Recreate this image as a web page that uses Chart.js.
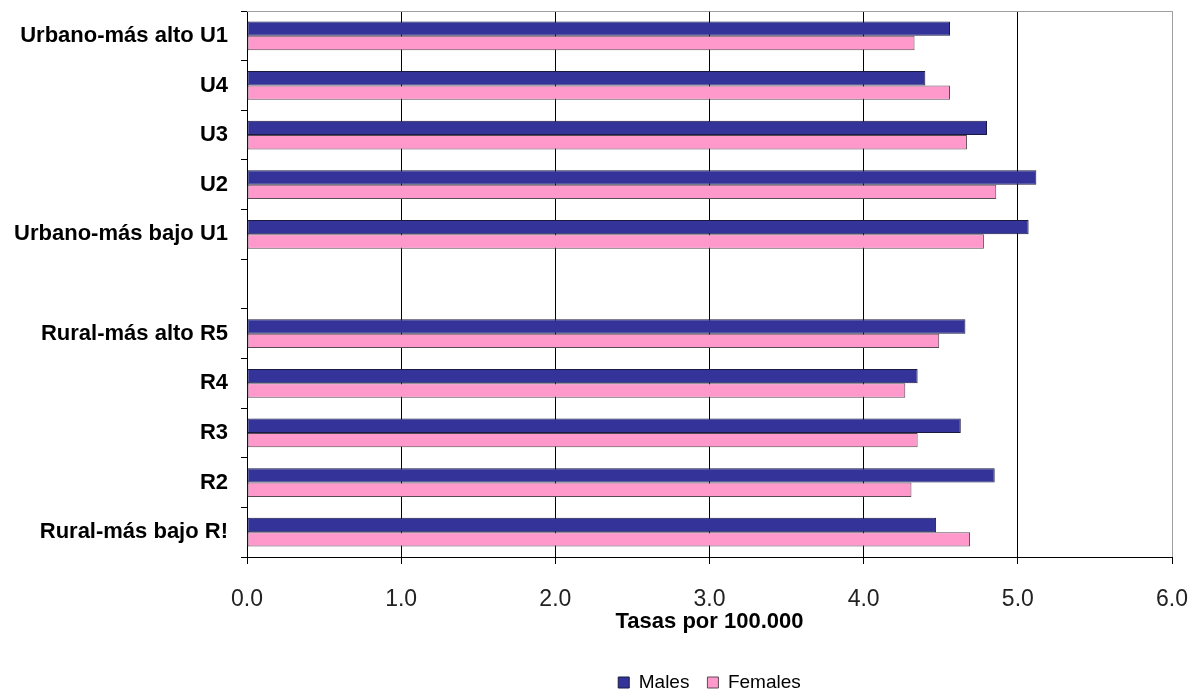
<!DOCTYPE html>
<html>
<head>
<meta charset="utf-8">
<script src="https://cdn.jsdelivr.net/npm/chart.js@4.4.0/dist/chart.umd.min.js"></script>
<style>
  html, body { margin: 0; padding: 0; background: #fff; }
  #wrap { width: 1201px; height: 696px; position: relative; }
</style>
</head>
<body>
<div id="wrap"><canvas id="chart"></canvas></div>
<script>
const categories = [
    "Urbano-más alto U1", "U4", "U3", "U2", "Urbano-más bajo U1", "",
    "Rural-más alto R5", "R4", "R3", "R2", "Rural-más bajo R!"
];
const males   = [4.56, 4.40, 4.80, 5.12, 5.07, null, 4.66, 4.35, 4.63, 4.85, 4.47];
const females = [4.33, 4.56, 4.67, 4.86, 4.78, null, 4.49, 4.27, 4.35, 4.31, 4.69];
const xTicks = [0, 1, 2, 3, 4, 5, 6];

const font = "'Liberation Sans', Arial, sans-serif";

// gray frame on top of the plot area
const frame = {
    id: "frame",
    beforeDatasetsDraw(chart) {
        const a = chart.chartArea, c = chart.ctx;
        c.save();
        c.strokeStyle = "#a0a0a0";
        c.lineWidth = 1;
        c.beginPath();
        c.moveTo(a.left, a.top + 0.5);
        c.lineTo(a.right, a.top + 0.5);
        c.stroke();
        c.restore();
    }
};

new Chart(document.getElementById("chart"), {
    type: "bar",
    data: {
        labels: categories,
        datasets: [{
            label: "Males",
            data: males,
            backgroundColor: "#333399",
            borderColor: "#1a1a40",
            borderWidth: 1,
            borderSkipped: false,
            categoryPercentage: 0.58,
            barPercentage: 1.0
        }, {
            label: "Females",
            data: females,
            backgroundColor: "#ff99cc",
            borderColor: "#5a4a55",
            borderWidth: 1,
            borderSkipped: false,
            categoryPercentage: 0.58,
            barPercentage: 1.0
        }]
    },
    options: {
        indexAxis: "y",
        responsive: true,
        maintainAspectRatio: false,
        animation: false,
        layout: { padding: { top: 11, right: 29, left: 0, bottom: -6 } },
        plugins: {
            tooltip: { enabled: false },
            legend: {
                position: "bottom",
                fullSize: false,
                labels: {
                    font: { family: font, size: 19 },
                    color: "#000",
                    boxWidth: 11,
                    boxHeight: 11,
                    padding: 18
                }
            }
        },
        scales: {
            x: {
                min: 0,
                max: 6,
                afterBuildTicks: s => { s.ticks = xTicks.map(v => ({ value: v })); },
                afterFit: s => { s.height = 98; s.paddingLeft = 0; s.paddingRight = 0; },
                ticks: {
                    callback: v => v.toFixed(1),
                    font: { family: font, size: 23 },
                    color: "#222",
                    padding: 22
                },
                grid: {
                    color: c => (c.tick && c.tick.value === 6) ? "#a0a0a0" : "#000",
                    tickColor: "#000",
                    tickLength: 7
                },
                border: { color: "#000" },
                title: {
                    display: true,
                    text: "Tasas por 100.000",
                    font: { family: font, size: 22, weight: "bold" },
                    color: "#000",
                    padding: { top: 0, bottom: 20 }
                }
            },
            y: {
                afterFit: s => { s.width = 247; s.paddingTop = 0; s.paddingBottom = 0; },
                ticks: {
                    font: { family: font, size: 22, weight: "bold" },
                    color: "#000",
                    padding: 13
                },
                grid: {
                    offset: true,
                    drawOnChartArea: false,
                    tickLength: 6,
                    color: "#000"
                },
                border: { color: "#000" }
            }
        }
    },
    plugins: [frame]
});
</script>
</body>
</html>
